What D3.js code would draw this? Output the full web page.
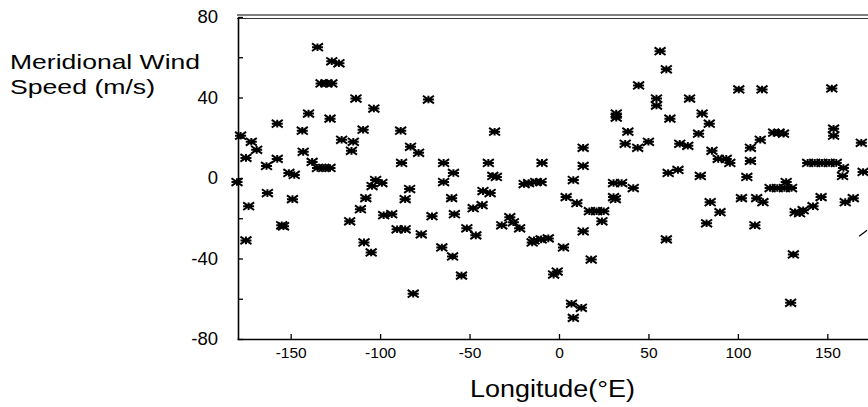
<!DOCTYPE html>
<html lang="en">
<head>
  <meta charset="UTF-8">
  <title>meridional wind speed</title>
  <style>
    body { margin: 0; background: #fff; }
    text { font-family: "Liberation Sans", Arial, sans-serif; fill: #000; }
  </style>
</head>
<body>
  <script src="https://cdn.jsdelivr.net/npm/d3@7"></script>
  <script type="text/javascript">
    var longitude = [
      -180, -178, -175, -175, -173.5, -172, -169, -163.5, -163, -157.5,
      -157.5, -155, -154, -151, -148, -149, -143.5, -143, -140, -138,
      -135, -135, -131.5, -128, -133, -130, -127, -128, -127, -123,
      -121.5, -117, -116, -115, -113.5, -111, -109.5, -109, -108, -105,
      -104.5, -103.5, -102.5, -99, -98, -93.5, -90.5, -88.5, -88, -86,
      -86, -83.5, -83, -81.5, -78.5, -77, -73, -71, -65.5, -64.5,
      -64.5, -60, -59.5, -58.5, -59, -54.5, -51.5, -48, -46.5, -43,
      -42.5, -39.5, -38.5, -37, -35, -36, -32, -27.5, -25.5, -22,
      -19.5, -17, -13, -10, -15, -14, -10, -6, -9.5, -3,
      -1, 2.5, 4, 7, 8, 8, 10, 12.5, 13.5, 13.5,
      13.5, 17, 21, 25, 18, 24, 30.5, 30.5, 31.5, 32,
      32, 35, 37, 38.5, 41.5, 44, 44.5, 50, 54.5, 54.5,
      56.5, 60, 60, 61, 62, 66.5, 67.5, 72, 73, 78,
      79, 80, 82.5, 84, 84.5, 85.5, 89, 90, 93.5, 95.5,
      100.5, 102, 105, 107, 107, 109.5, 110.5, 112.5, 113.5, 114,
      118, 120, 122, 123, 125.5, 126, 127, 129.5, 130, 131,
      132, 134.5, 136.5, 142, 139, 143, 147, 151, 155, 146.5,
      152.5, 153.5, 153.5, 158.5, 159, 160, 164.5, 169, 170
    ];
    // meridional wind speed (m/s) for the same observations
    var windSpeed = [
      -2, 21, 10, -31, -14, 18, 14, 6, -7.5, 27,
      9.5, -23.5, -24, 2.5, 1.5, -10.5, 23.5, 13, 32, 8,
      65, 5, 5, 5, 47, 47, 47, 29.5, 58, 57,
      19, -21.5, 13.5, 18, 39.5, -15.5, 24, -32, -10, -37,
      -4, 34.5, -1, -2.5, -18.5, -18, -25.5, 23.5, 7.5, -25.5,
      -10.5, -5.5, 15.5, -57.5, 12.5, -28, 39, -19, -34.5, 7.5,
      -2, -10, -39, -18, 2.5, -48.5, -25, -15, -28.5, -13.5,
      -6.5, 7.5, -7.5, 1, 0.5, 23, -23.5, -19.5, -22, -25,
      -3, -2.5, -2, -2, -32, -31, -30.5, -30, 7.5, -48,
      -46.5, -34.5, -9.5, -62.5, -1, -69.5, -12.5, -64.5, 15, 6,
      -26.5, -16.5, -16.5, -16.5, -40.5, -21.5, -2.5, -9.5, -10.5, 32,
      30, -2.5, 17, 23, -5, 15, 46, 18, 39.5, 36,
      63, 54, -30.5, 2.5, 29.5, 4, 17, 16, 39.5, 22,
      1, 32, -22.5, 27, -12, 13.5, 9.5, -17, 9.5, 7.5,
      44, -10, 0.5, 15, 8.5, -23.5, -10, 19, 44, -12,
      -5, 22.5, -5, 22.5, 22, -5, -2, -62, -5, -38,
      -17, -17.5, -16, -14, 7.5, 7.5, 7.5, 7.5, 7.5, -9.5,
      44.5, 24.5, 21, 1, 5, -12, -10, 17.5, 3
    ];
    // a clipped marker fragment near the right edge
    var strayLon = [170];
    var strayVal = [-27.5];

    var xTicks = [-150, -100, -50, 0, 50, 100, 150];
    var yTicks = [-80, -60, -40, -20, 0, 20, 40, 60, 80];

    var width = 868;
    var height = 407;
    var svg = d3.select("body")
      .append("svg")
      .attr("width", width)
      .attr("height", height);

    var x = d3.scaleLinear().domain([-180, 180]).range([237, 881]);
    var y = d3.scaleLinear().domain([-80, 80]).range([339, 17]);

    // double line along the top of the frame
    svg.append("line")
      .attr("x1", x(-180)).attr("x2", width)
      .attr("y1", y(80) - 2).attr("y2", y(80) - 2)
      .attr("stroke", "#000").attr("stroke-width", 1.2);
    svg.append("line")
      .attr("x1", x(-180)).attr("x2", width)
      .attr("y1", y(80) + 1.5).attr("y2", y(80) + 1.5)
      .attr("stroke", "#333").attr("stroke-width", 1);

    // plain hyphen for negatives, like the original
    var yAxis = d3.axisLeft(y)
      .tickValues(yTicks)
      .tickSize(-5)
      .tickSizeOuter(0)
      .tickPadding(20)
      .tickFormat(function(d){ return d % 40 === 0 ? String(d) : ""; });
    var gy = svg.append("g")
      .attr("transform", "translate(" + (x(-180) + 1) + ",0)")
      .call(yAxis);

    var xAxis = d3.axisBottom(x)
      .tickValues(xTicks)
      .tickSize(-5)
      .tickSizeOuter(0)
      .tickPadding(8)
      .tickFormat(function(d){ return String(d); });
    var gx = svg.append("g")
      .attr("transform", "translate(0," + y(-80) + ")")
      .call(xAxis);

    [gx, gy].forEach(function(g){
      g.select(".domain").attr("stroke", "#000").attr("stroke-width", 1.6);
      g.selectAll(".tick line").attr("stroke", "#000").attr("stroke-width", 1.3);
      g.selectAll(".tick text")
        .attr("font-family", "Liberation Sans, Arial, sans-serif")
        .attr("fill", "#000");
    });
    gy.selectAll(".tick text").attr("font-size", "18.5px");
    gx.selectAll(".tick text").attr("font-size", "15.5px");

    // asterisk marker, a bit squat like the scanned original
    var hw = 5.5, hh = 3.8;
    var star = "M" + (-hw) + ",0H" + hw +
               "M0," + (-hh) + "V" + hh +
               "M" + (-hw) + "," + (-hh) + "L" + hw + "," + hh +
               "M" + (-hw) + "," + hh + "L" + hw + "," + (-hh);

    var points = longitude.map(function(d, i){ return [d, windSpeed[i]]; });
    svg.append("g")
      .selectAll("path")
      .data(points)
      .enter()
      .append("path")
      .attr("d", star)
      .attr("transform", function(d){ return "translate(" + x(d[0]) + "," + y(d[1]) + ")"; })
      .attr("fill", "none")
      .attr("stroke", "#000")
      .attr("stroke-width", 2);

    svg.append("g")
      .selectAll("path")
      .data(strayLon.map(function(d, i){ return [d, strayVal[i]]; }))
      .enter()
      .append("path")
      .attr("d", "M-4,3L4,-3")
      .attr("transform", function(d){ return "translate(" + x(d[0]) + "," + y(d[1]) + ")"; })
      .attr("stroke", "#000")
      .attr("stroke-width", 1.3);

    // axis titles
    svg.append("text")
      .attr("x", 10).attr("y", 69)
      .attr("font-size", "21px")
      .attr("textLength", 190).attr("lengthAdjust", "spacingAndGlyphs")
      .text("Meridional Wind");
    svg.append("text")
      .attr("x", 10).attr("y", 94)
      .attr("font-size", "21px")
      .attr("textLength", 145).attr("lengthAdjust", "spacingAndGlyphs")
      .text("Speed (m/s)");
    svg.append("text")
      .attr("x", 470).attr("y", 397)
      .attr("font-size", "23px")
      .attr("textLength", 165).attr("lengthAdjust", "spacingAndGlyphs")
      .text("Longitude(°E)");
  </script>
</body>
</html>
